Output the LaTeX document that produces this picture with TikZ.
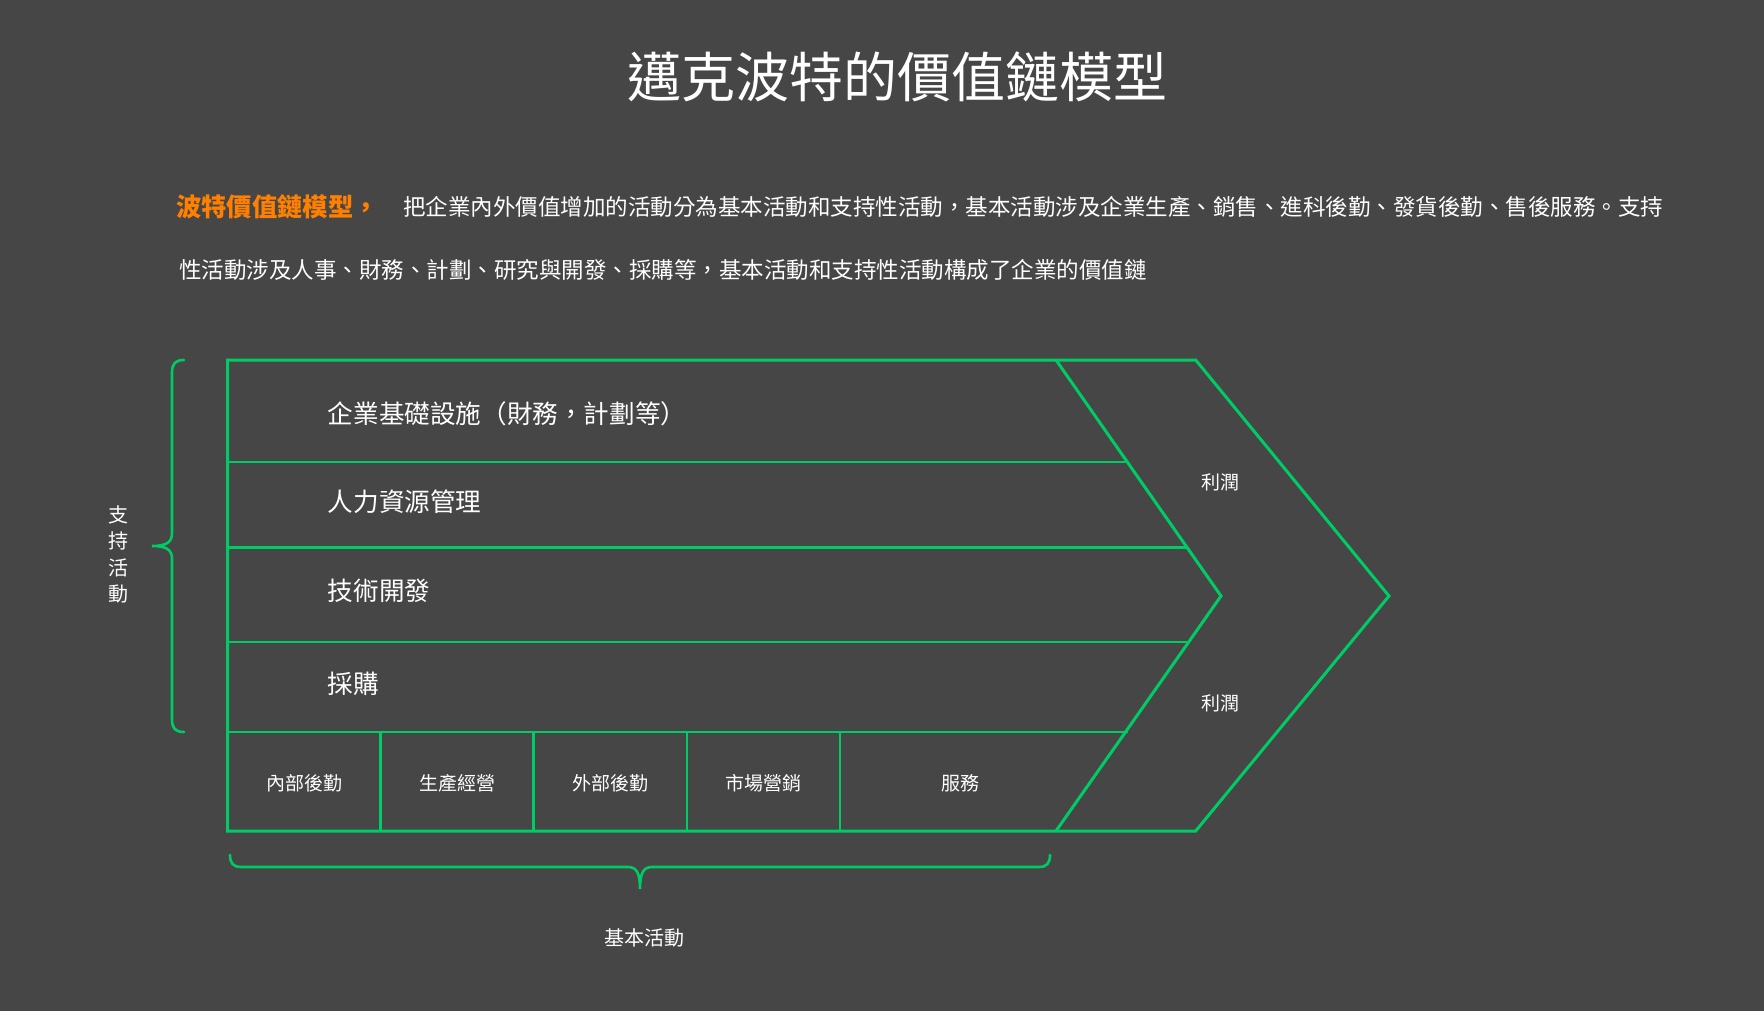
\documentclass[tikz,border=0pt]{standalone}
\usepackage{fontspec}
\setmainfont{Noto Sans CJK TC}
\definecolor{bgc}{HTML}{464646}
\definecolor{gc}{HTML}{00CC66}
\definecolor{oc}{HTML}{FF8000}
\begin{document}
\begin{tikzpicture}[x=1pt,y=-1pt,
  txt/.style={text=white, inner sep=0pt},
  outl/.style={draw=gc, line width=3pt, line join=miter},
  rowl/.style={draw=gc, line width=2.2pt},
  cell/.style={draw=gc, line width=2.6pt},
  brc/.style={draw=gc, line width=2.6pt, line cap=round}]
\path[fill=bgc] (0,0) rectangle (1764,1011);
\useasboundingbox (0,0) rectangle (1764,1011);
% key coordinates
\coordinate (TL) at (227.7,360);
\coordinate (BL) at (227.7,831);
\coordinate (OT) at (1195.7,360);
\coordinate (OTip) at (1389,596);
\coordinate (OB) at (1195.7,831);
\coordinate (IT) at (1056,360);
\coordinate (ITip) at (1221,596);
\coordinate (IB) at (1056,831);
% title and paragraph
\node[txt, anchor=base, font=\fontsize{54}{60}\selectfont] (title) at (897,97.5) {邁克波特的價值鏈模型};
\node[inner sep=0pt, anchor=base west, text=oc, font=\fontsize{25.3}{30}\selectfont\bfseries] (lead) at (176,216.5) {波特價值鏈模型，};
\node[txt, anchor=base west, font=\fontsize{22.5}{28}\selectfont] (p1) at (403,215.5) {把企業內外價值增加的活動分為基本活動和支持性活動，基本活動涉及企業生產、銷售、進科後勤、發貨後勤、售後服務。支持};
\node[txt, anchor=base west, font=\fontsize{22.5}{28}\selectfont] (p2) at (179,278.5) {性活動涉及人事、財務、計劃、研究與開發、採購等，基本活動和支持性活動構成了企業的價值鏈};
% chevron outline
\draw[outl] (TL) -- (OT) -- (OTip) -- (OB) -- (BL) -- cycle;
\draw[outl] (IT) -- (ITip) -- (IB);
% rows
\draw[rowl] (227.7,462) -- (1127.5,462);
\draw[rowl] (227.7,547.5) -- (1187,547.5);
\draw[rowl] (227.7,642) -- (1187,642);
\draw[cell] (227.7,732) -- (1127.5,732);
% cells
\foreach \x in {380.7,533.5,686.8,840} \draw[cell] (\x,732) -- (\x,831);
% row labels
\node[txt, anchor=base west, font=\fontsize{25.6}{30}\selectfont] (r1) at (327.7,423.7) {企業基礎設施（財務，計劃等）};
\node[txt, anchor=base west, font=\fontsize{25.6}{30}\selectfont] (r2) at (327.7,511.4) {人力資源管理};
\node[txt, anchor=base west, font=\fontsize{25.6}{30}\selectfont] (r3) at (327.7,600.4) {技術開發};
\node[txt, anchor=base west, font=\fontsize{25.6}{30}\selectfont] (r4) at (327.7,693.7) {採購};
% cell labels
\node[txt, anchor=base, font=\fontsize{19}{23}\selectfont] (c1) at (304,790) {內部後勤};
\node[txt, anchor=base, font=\fontsize{19}{23}\selectfont] (c2) at (457,790) {生產經營};
\node[txt, anchor=base, font=\fontsize{19}{23}\selectfont] (c3) at (610,790) {外部後勤};
\node[txt, anchor=base, font=\fontsize{19}{23}\selectfont] (c4) at (763.4,790) {市場營銷};
\node[txt, anchor=base, font=\fontsize{19}{23}\selectfont] (c5) at (960,790) {服務};
% profit
\node[txt, anchor=base, font=\fontsize{19}{23}\selectfont] (pf1) at (1220.5,489.2) {利潤};
\node[txt, anchor=base, font=\fontsize{19}{23}\selectfont] (pf2) at (1220.5,710.2) {利潤};
% left brace
\draw[brc] (184,360) .. controls (175,360) and (172,364) .. (172,373) -- (172,533)
  .. controls (172,542) and (167,546) .. (152,546)
  .. controls (167,546) and (172,550) .. (172,559) -- (172,719)
  .. controls (172,728) and (175,732) .. (184,732);
\node[txt, anchor=base, font=\fontsize{20}{24}\selectfont] (s1) at (118.3,522.6) {支};
\node[txt, anchor=base, font=\fontsize{20}{24}\selectfont] (s2) at (118.3,548.9) {持};
\node[txt, anchor=base, font=\fontsize{20}{24}\selectfont] (s3) at (118.3,575.2) {活};
\node[txt, anchor=base, font=\fontsize{20}{24}\selectfont] (s4) at (118.3,601.6) {動};
% bottom brace
\draw[brc] (230,855) .. controls (230,863) and (233,867) .. (241,867) -- (628,867)
  .. controls (636,867) and (640,872) .. (640,889)
  .. controls (640,872) and (644,867) .. (652,867) -- (1039,867)
  .. controls (1047,867) and (1050,863) .. (1050,855);
\node[txt, anchor=base, font=\fontsize{20}{24}\selectfont] (basic) at (644.6,945.6) {基本活動};
\end{tikzpicture}
\end{document}
